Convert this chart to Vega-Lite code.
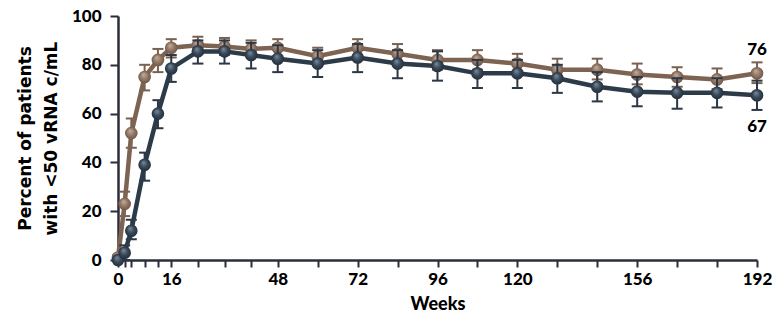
{
  "$schema": "https://vega.github.io/schema/vega-lite/v6.json",
  "width": 639,
  "height": 244,
  "autosize": {"type": "none"},
  "padding": {"left": 118, "top": 16, "right": 17, "bottom": 60},
  "background": "white",
  "config": {
    "view": {"stroke": null},
    "font": "Lato",
    "axis": {
      "grid": false,
      "domainColor": "#2a2d3a",
      "domainWidth": 2.5,
      "tickColor": "#2a2d3a",
      "tickWidth": 2,
      "tickSize": 7,
      "labelFont": "Lato",
      "labelFontWeight": 900,
      "labelFontSize": 17,
      "labelColor": "#000000",
      "titleFont": "Lato",
      "titleFontWeight": 900,
      "titleFontSize": 18,
      "titleColor": "#000000"
    }
  },
  "datasets": {
    "series": [
      {"week": 0, "arm": "A", "pct": 1, "lo": 0, "hi": 2},
      {"week": 2, "arm": "A", "pct": 23, "lo": 18, "hi": 28},
      {"week": 4, "arm": "A", "pct": 52, "lo": 46, "hi": 58},
      {"week": 8, "arm": "A", "pct": 75, "lo": 69.5, "hi": 80},
      {"week": 12, "arm": "A", "pct": 82, "lo": 77, "hi": 86.5},
      {"week": 16, "arm": "A", "pct": 87, "lo": 83, "hi": 90.5},
      {"week": 24, "arm": "A", "pct": 88, "lo": 84.5, "hi": 91.5},
      {"week": 32, "arm": "A", "pct": 87.5, "lo": 84, "hi": 91},
      {"week": 40, "arm": "A", "pct": 86.5, "lo": 83, "hi": 90},
      {"week": 48, "arm": "A", "pct": 87, "lo": 83.5, "hi": 90.5},
      {"week": 60, "arm": "A", "pct": 83.5, "lo": 80, "hi": 87},
      {"week": 72, "arm": "A", "pct": 87, "lo": 83, "hi": 90.5},
      {"week": 84, "arm": "A", "pct": 84.5, "lo": 80.5, "hi": 88.5},
      {"week": 96, "arm": "A", "pct": 82, "lo": 78, "hi": 86},
      {"week": 108, "arm": "A", "pct": 82, "lo": 78, "hi": 86},
      {"week": 120, "arm": "A", "pct": 80.5, "lo": 76.5, "hi": 84.5},
      {"week": 132, "arm": "A", "pct": 78, "lo": 74, "hi": 82.5},
      {"week": 144, "arm": "A", "pct": 78, "lo": 74, "hi": 82.5},
      {"week": 156, "arm": "A", "pct": 76, "lo": 72, "hi": 80.5},
      {"week": 168, "arm": "A", "pct": 75, "lo": 71, "hi": 79},
      {"week": 180, "arm": "A", "pct": 74, "lo": 70, "hi": 78.5},
      {"week": 192, "arm": "A", "pct": 76.5, "lo": 72.5, "hi": 81},
      {"week": 0, "arm": "B", "pct": 0, "lo": 0, "hi": 0},
      {"week": 2, "arm": "B", "pct": 3, "lo": 0, "hi": 6},
      {"week": 4, "arm": "B", "pct": 12, "lo": 8.5, "hi": 16.5},
      {"week": 8, "arm": "B", "pct": 39, "lo": 32.5, "hi": 44},
      {"week": 12, "arm": "B", "pct": 60, "lo": 54, "hi": 65.5},
      {"week": 16, "arm": "B", "pct": 78.5, "lo": 73, "hi": 84},
      {"week": 24, "arm": "B", "pct": 85.5, "lo": 80.5, "hi": 90},
      {"week": 32, "arm": "B", "pct": 85.5, "lo": 80.5, "hi": 90},
      {"week": 40, "arm": "B", "pct": 84, "lo": 78.5, "hi": 89},
      {"week": 48, "arm": "B", "pct": 82.5, "lo": 77, "hi": 88},
      {"week": 60, "arm": "B", "pct": 80.5, "lo": 75, "hi": 86},
      {"week": 72, "arm": "B", "pct": 83, "lo": 77, "hi": 88.5},
      {"week": 84, "arm": "B", "pct": 80.5, "lo": 74.5, "hi": 86},
      {"week": 96, "arm": "B", "pct": 79.5, "lo": 73.5, "hi": 85.5},
      {"week": 108, "arm": "B", "pct": 76.5, "lo": 70.5, "hi": 82},
      {"week": 120, "arm": "B", "pct": 76.5, "lo": 70.5, "hi": 82},
      {"week": 132, "arm": "B", "pct": 74.5, "lo": 68.5, "hi": 80},
      {"week": 144, "arm": "B", "pct": 71, "lo": 65, "hi": 77},
      {"week": 156, "arm": "B", "pct": 69, "lo": 63, "hi": 75},
      {"week": 168, "arm": "B", "pct": 68.5, "lo": 62, "hi": 74.5},
      {"week": 180, "arm": "B", "pct": 68.5, "lo": 62.5, "hi": 74.5},
      {"week": 192, "arm": "B", "pct": 67.5, "lo": 61.5, "hi": 73.5}
    ],
    "endlabels": [
      {"week": 192, "arm": "A", "pct": 76.5, "label": "76"},
      {"week": 192, "arm": "B", "pct": 67.5, "label": "67"}
    ]
  },
  "encoding": {
    "x": {
      "field": "week",
      "type": "quantitative",
      "scale": {"domain": [0, 192], "nice": false, "zero": true},
      "axis": {
        "title": "Weeks",
        "values": [0, 2, 4, 8, 12, 16, 24, 32, 40, 48, 60, 72, 84, 96, 108, 120, 132, 144, 156, 168, 180, 192],
        "labelExpr": "indexof([0,16,48,72,96,120,156,192], datum.value) >= 0 ? datum.label : ''",
        "labelOverlap": false,
        "labelPadding": 4,
        "titlePadding": 8,
        "labelFlush": false
      }
    },
    "y": {
      "field": "pct",
      "type": "quantitative",
      "scale": {"domain": [0, 100], "nice": false},
      "axis": {"title": ["Percent of patients", "with <50 vRNA c/mL"], "values": [0, 20, 40, 60, 80, 100], "tickSize": 8, "labelPadding": 9, "titlePadding": 11, "titleLineHeight": 26, "titleFont": "DejaVu Sans", "titleFontWeight": "bold", "titleFontSize": 17}
    }
  },
  "layer": [
    {
      "data": {"name": "series"},
      "transform": [{"filter": "datum.arm === 'A'"}],
      "layer": [
        {"mark": {"type": "rule", "color": "#7a6050", "strokeWidth": 2, "clip": false},
         "encoding": {"y": {"field": "lo", "type": "quantitative", "axis": {"title": ["Percent of patients", "with <50 vRNA c/mL"]}}, "y2": {"field": "hi"}}},
        {"mark": {"type": "tick", "orient": "horizontal", "color": "#7a6050", "size": 11, "thickness": 2, "opacity": 1, "clip": false},
         "encoding": {"y": {"field": "lo", "type": "quantitative", "axis": {"title": ["Percent of patients", "with <50 vRNA c/mL"]}}}},
        {"mark": {"type": "tick", "orient": "horizontal", "color": "#7a6050", "size": 11, "thickness": 2, "opacity": 1, "clip": false},
         "encoding": {"y": {"field": "hi", "type": "quantitative", "axis": {"title": ["Percent of patients", "with <50 vRNA c/mL"]}}}},
        {"mark": {"type": "line", "color": "#7d6352", "strokeWidth": 4.5, "clip": false}},
        {"mark": {"type": "point", "filled": true, "size": 160, "opacity": 1, "clip": false,
          "fill": {"gradient": "radial", "x1": 0.4, "y1": 0.3, "r1": 0, "x2": 0.5, "y2": 0.5, "r2": 0.55,
            "stops": [{"offset": 0, "color": "#c6b1a1"}, {"offset": 0.5, "color": "#957a68"}, {"offset": 1, "color": "#6a5142"}]}}}
      ]
    },
    {
      "data": {"name": "series"},
      "transform": [{"filter": "datum.arm === 'B'"}],
      "layer": [
        {"mark": {"type": "rule", "color": "#2b3744", "strokeWidth": 2, "clip": false},
         "encoding": {"y": {"field": "lo", "type": "quantitative", "axis": {"title": ["Percent of patients", "with <50 vRNA c/mL"]}}, "y2": {"field": "hi"}}},
        {"mark": {"type": "tick", "orient": "horizontal", "color": "#2b3744", "size": 11, "thickness": 2, "opacity": 1, "clip": false},
         "encoding": {"y": {"field": "lo", "type": "quantitative", "axis": {"title": ["Percent of patients", "with <50 vRNA c/mL"]}}}},
        {"mark": {"type": "tick", "orient": "horizontal", "color": "#2b3744", "size": 11, "thickness": 2, "opacity": 1, "clip": false},
         "encoding": {"y": {"field": "hi", "type": "quantitative", "axis": {"title": ["Percent of patients", "with <50 vRNA c/mL"]}}}},
        {"mark": {"type": "line", "color": "#2d3a48", "strokeWidth": 4.5, "clip": false}},
        {"mark": {"type": "point", "filled": true, "size": 160, "opacity": 1, "clip": false,
          "fill": {"gradient": "radial", "x1": 0.4, "y1": 0.3, "r1": 0, "x2": 0.5, "y2": 0.5, "r2": 0.55,
            "stops": [{"offset": 0, "color": "#7d8fa0"}, {"offset": 0.5, "color": "#3b4b5c"}, {"offset": 1, "color": "#1f2a36"}]}}}
      ]
    },
    {
      "data": {"name": "endlabels"},
      "layer": [
        {"transform": [{"filter": "datum.arm === 'A'"}],
         "mark": {"type": "text", "font": "Lato", "fontWeight": 900, "fontSize": 17, "color": "#000000", "align": "center", "baseline": "middle", "dy": -23, "clip": false},
         "encoding": {"text": {"field": "label"}}},
        {"transform": [{"filter": "datum.arm === 'B'"}],
         "mark": {"type": "text", "font": "Lato", "fontWeight": 900, "fontSize": 17, "color": "#000000", "align": "center", "baseline": "middle", "dy": 32, "clip": false},
         "encoding": {"text": {"field": "label"}}}
      ]
    }
  ]
}
